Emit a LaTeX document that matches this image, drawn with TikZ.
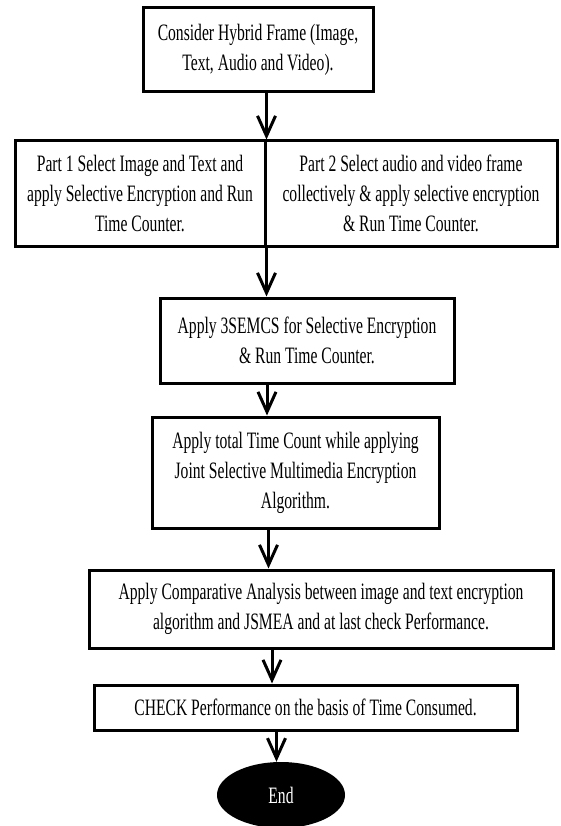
\documentclass[tikz,border=0pt]{standalone}
\usepackage{fontspec}
\setmainfont{Liberation Serif}[FakeStretch=0.665]
\usetikzlibrary{arrows.meta, shapes.geometric}
\tikzstyle{Flow} = [
%arrow between two steps:
line width = 3pt,
-{Straight Barb[length = 20pt, width = 18pt, line width = 3pt]}
]

\begin{document}
\begin{tikzpicture}[x = 1pt, y = 1pt,
				font = \fontsize{23.5}{30}\selectfont,
				process/.style = {rectangle, draw, line width = 3pt, align = center, inner sep = 0pt},
				terminal/.style = {ellipse, fill = black, text = white, inner sep = 0pt},
			]
			\useasboundingbox (0,0) rectangle (560,-826);

			\node[process, minimum width = 230pt, minimum height = 84pt](frame) at (258,-50){Consider Hybrid Frame (Image,\\Text, Audio and Video).};
			\node[process, minimum width = 250pt, minimum height = 105pt](partone) at (140,-193.5){Part 1 Select Image and Text and\\apply Selective Encryption and Run\\Time Counter.};
			\node[process, minimum width = 292pt, minimum height = 105pt](parttwo) at (411,-193.5){Part 2 Select audio and video frame\\collectively \& apply selective encryption\\\& Run Time Counter.};
			\node[process, minimum width = 294pt, minimum height = 85pt](semcs) at (307,-340.5){Apply 3SEMCS for Selective Encryption\\\& Run Time Counter.};
			\node[process, minimum width = 287pt, minimum height = 111pt](total) at (295.5,-472.5){Apply total Time Count while applying\\Joint Selective Multimedia Encryption\\Algorithm.};
			\node[process, minimum width = 464pt, minimum height = 78pt](compare) at (321,-609){Apply Comparative Analysis between image and text encryption\\algorithm and JSMEA and at last check Performance.};
			\node[process, minimum width = 423pt, minimum height = 45pt](check) at (305.5,-707.5){CHECK Performance on the basis of Time Consumed.};
			\node[terminal, minimum width = 128pt, minimum height = 66pt](end) at (281,-795){End};

			\draw[Flow](frame.south -| partone.north east)--(partone.north east);
			\draw[Flow](partone.south east)--(partone.south east |- semcs.north);
			\draw[Flow]([xshift = -40pt]semcs.south)--([xshift = -40pt]semcs.south |- total.north);
			\draw[Flow]([xshift = -27pt]total.south)--([xshift = -27pt]total.south |- compare.north);
			\draw[Flow]([xshift = -49pt]compare.south)--([xshift = -49pt]compare.south |- check.north);
			\draw[Flow]([xshift = -29pt]check.south)--([xshift = -29pt]check.south |- end.north);

		\end{tikzpicture}
\end{document}
